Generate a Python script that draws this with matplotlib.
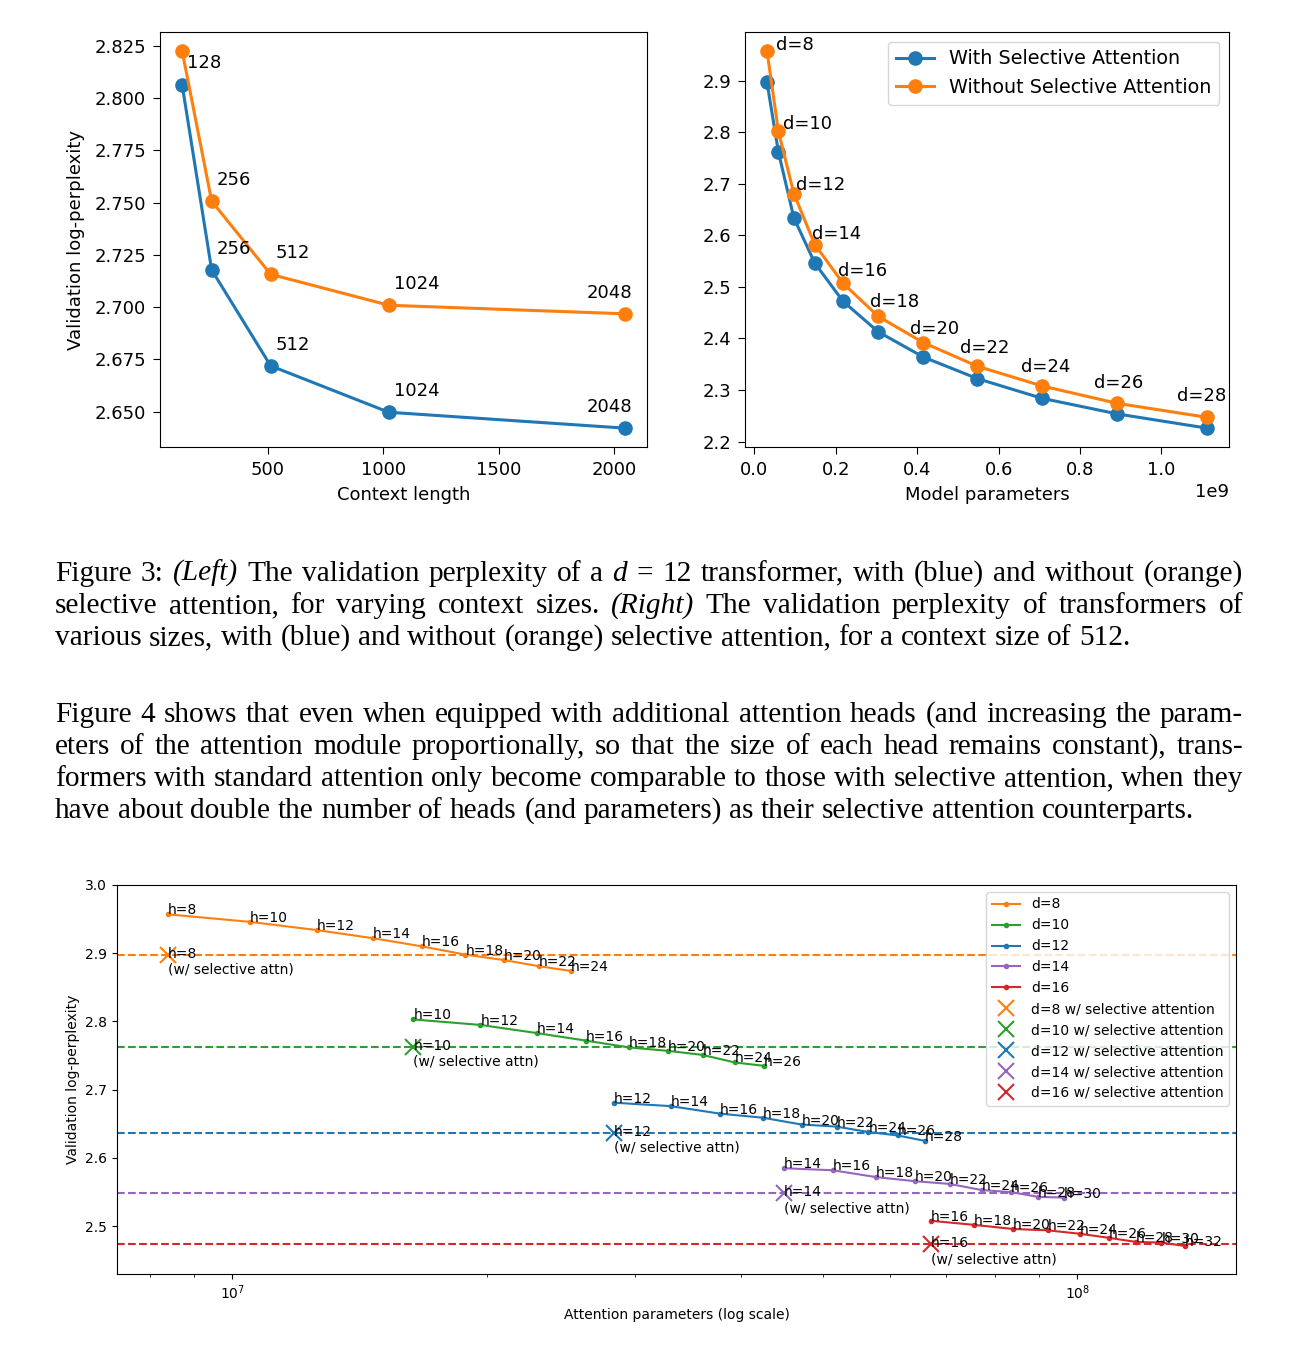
import numpy as np
import matplotlib
matplotlib.use("Agg")
import matplotlib.pyplot as plt

# ---- data: context length sweep (d=12) ----
context_len = [128, 256, 512, 1024, 2048]
ctx_with_sel = [2.8064, 2.7178, 2.6719, 2.6497, 2.6421]
ctx_without_sel = [2.8226, 2.7507, 2.7157, 2.7009, 2.6968]

# ---- data: model size sweep (context 512) ----
depths = [8, 10, 12, 14, 16, 18, 20, 22, 24, 26, 28]
model_params = [0.031e9, 0.059e9, 0.097e9, 0.1485e9, 0.218e9, 0.304e9,
                0.415e9, 0.548e9, 0.706e9, 0.892e9, 1.112e9]
size_with_sel = [2.897, 2.762, 2.634, 2.546, 2.472, 2.413, 2.364, 2.322, 2.284, 2.2535, 2.226]
size_without_sel = [2.958, 2.802, 2.681, 2.582, 2.507, 2.443, 2.392, 2.346, 2.308, 2.274, 2.247]

# ---- data: extra heads vs selective attention ----
heads_d8 = [8, 10, 12, 14, 16, 18, 20, 22, 24]
params_d8 = [8.39e6, 1.049e7, 1.258e7, 1.468e7, 1.678e7, 1.887e7, 2.097e7, 2.307e7, 2.517e7]
ppl_d8 = [2.957, 2.946, 2.934, 2.922, 2.910, 2.898, 2.890, 2.881, 2.874]

heads_d10 = [10, 12, 14, 16, 18, 20, 22, 24, 26]
params_d10 = [1.638e7, 1.966e7, 2.294e7, 2.621e7, 2.949e7, 3.277e7, 3.604e7, 3.932e7, 4.260e7]
ppl_d10 = [2.803, 2.795, 2.783, 2.772, 2.762, 2.757, 2.751, 2.740, 2.735]

heads_d12 = [12, 14, 16, 18, 20, 22, 24, 26, 28]
params_d12 = [2.831e7, 3.303e7, 3.775e7, 4.247e7, 4.719e7, 5.190e7, 5.662e7, 6.134e7, 6.606e7]
ppl_d12 = [2.681, 2.676, 2.665, 2.659, 2.649, 2.646, 2.638, 2.633, 2.625]

heads_d14 = [14, 16, 18, 20, 22, 24, 26, 28, 30]
params_d14 = [4.496e7, 5.138e7, 5.780e7, 6.423e7, 7.065e7, 7.707e7, 8.349e7, 8.992e7, 9.634e7]
ppl_d14 = [2.585, 2.582, 2.572, 2.566, 2.562, 2.553, 2.550, 2.543, 2.542]

heads_d16 = [16, 18, 20, 22, 24, 26, 28, 30, 32]
params_d16 = [6.711e7, 7.550e7, 8.389e7, 9.227e7, 1.007e8, 1.090e8, 1.174e8, 1.258e8, 1.342e8]
ppl_d16 = [2.508, 2.502, 2.496, 2.494, 2.489, 2.483, 2.477, 2.476, 2.471]

sel_depths = [8, 10, 12, 14, 16]
sel_heads = [8, 10, 12, 14, 16]
sel_params = [8.39e6, 1.638e7, 2.831e7, 4.496e7, 6.711e7]
sel_ppl = [2.898, 2.763, 2.637, 2.548, 2.474]

caption = [
    "Figure 3: *(Left)* The validation perplexity of a *d* = 12 transformer, with (blue) and without (orange)",
    "selective attention, for varying context sizes. *(Right)* The validation perplexity of transformers of",
    "various sizes, with (blue) and without (orange) selective attention, for a context size of 512.",
]
paragraph = [
    "Figure 4 shows that even when equipped with additional attention heads (and increasing the param-",
    "eters of the attention module proportionally, so that the size of each head remains constant), trans-",
    "formers with standard attention only become comparable to those with selective attention, when they",
    "have about double the number of heads (and parameters) as their selective attention counterparts.",
]

W, H = 1299, 1347
fig = plt.figure(figsize=(W / 100, H / 100), dpi=100)


def box(x0, y0, x1, y1):
    return [x0 / W, 1 - y1 / H, (x1 - x0) / W, (y1 - y0) / H]


# ---------------- top left ----------------
big = 13
ax1 = fig.add_axes(box(160, 32, 647, 447))
ax1.plot(context_len, ctx_with_sel, "o-", color="C0", lw=2.2, ms=9.5)
ax1.plot(context_len, ctx_without_sel, "o-", color="C1", lw=2.2, ms=9.5)
for i, c in enumerate(context_len):
    for vals, skip in ((ctx_with_sel, False), (ctx_without_sel, i == 0)):
        if skip:
            continue
        if i == 0:
            ax1.annotate(str(c), (c, vals[i]), xytext=(5, 22), textcoords="offset pixels",
                         ha="left", va="center", fontsize=big)
        elif i == len(context_len) - 1:
            ax1.annotate(str(c), (c, vals[i]), xytext=(7, 21), textcoords="offset pixels",
                         ha="right", va="center", fontsize=big)
        else:
            ax1.annotate(str(c), (c, vals[i]), xytext=(5, 21), textcoords="offset pixels",
                         ha="left", va="center", fontsize=big)
ax1.set_xlabel("Context length", fontsize=big, labelpad=5)
ax1.set_ylabel("Validation log-perplexity", fontsize=big, labelpad=7)
ax1.tick_params(labelsize=big, length=5, pad=5)

# ---------------- top right ----------------
ax2 = fig.add_axes(box(745, 32, 1229, 447))
ax2.plot(model_params, size_with_sel, "o-", color="C0", lw=2.2, ms=9.5, label="With Selective Attention")
ax2.plot(model_params, size_without_sel, "o-", color="C1", lw=2.2, ms=9.5, label="Without Selective Attention")
label_offsets = [(28, 6), (29, 7), (27, 9), (22, 11), (19, 12), (16, 14),
                 (11, 14), (7, 18), (4, 19), (1, 20), (-5, 21)]
for d, x, y, off in zip(depths, model_params, size_without_sel, label_offsets):
    ax2.annotate(f"d={d}", (x, y), xytext=off, textcoords="offset pixels",
                 ha="center", va="center", fontsize=big)
ax2.set_xlabel("Model parameters", fontsize=big, labelpad=5)
ax2.tick_params(labelsize=big, length=5, pad=5)
ax2.xaxis.get_offset_text().set_fontsize(big)
ax2.legend(loc="upper right", fontsize=13.8)

# ---------------- bottom ----------------
ax3 = fig.add_axes(box(117, 885, 1236, 1274))
series = [
    (8, "C1", heads_d8, params_d8, ppl_d8),
    (10, "C2", heads_d10, params_d10, ppl_d10),
    (12, "C0", heads_d12, params_d12, ppl_d12),
    (14, "C4", heads_d14, params_d14, ppl_d14),
    (16, "C3", heads_d16, params_d16, ppl_d16),
]
fs = 10
for d, col, hs, xs, ys in series:
    ax3.plot(xs, ys, ".-", color=col, lw=1.5, ms=6, label=f"d={d}")
    for h, x, y in zip(hs, xs, ys):
        ax3.text(x, y, f"h={h}", fontsize=fs)
sel_colors = ["C1", "C2", "C0", "C4", "C3"]
for d, h, x, y, col in zip(sel_depths, sel_heads, sel_params, sel_ppl, sel_colors):
    ax3.axhline(y, color=col, ls="--", lw=1.5)
    ax3.plot([x], [y], "x", color=col, ms=11, mew=1.5, label=f"d={d} w/ selective attention")
    ax3.annotate(f"h={h}\n(w/ selective attn)", (x, y), xytext=(0, 8), textcoords="offset pixels",
                 ha="left", va="top", fontsize=fs)
ax3.set_xscale("log")
ax3.set_ylim(2.43, 3.0)
ax3.set_xlabel("Attention parameters (log scale)", fontsize=fs)
ax3.set_ylabel("Validation log-perplexity", fontsize=fs)
ax3.tick_params(labelsize=fs)
ax3.legend(loc="upper right", fontsize=fs)

# ---------------- body text ----------------
serif = "Liberation Serif"
renderer = fig.canvas.get_renderer()


def words_of(line):
    out = []
    for w in line.split(" "):
        if w.startswith("*") and w.endswith("*"):
            out.append((w.strip("*"), "italic"))
        else:
            out.append((w, "normal"))
    return out


def measure(s, size, style="normal"):
    t = fig.text(0, 0, s, fontsize=size, family=serif, style=style)
    w = t.get_window_extent(renderer).width
    t.remove()
    return w


probe = 20
size_a = probe * (1146 - 55) / measure(caption[-1], probe)
size_b = probe * (1183 - 55) / measure(paragraph[-1], probe)
size = (size_a + size_b) / 2
space = measure("a a", size) - measure("aa", size)


def draw_line(line, y, justify, x0=55, x1=1243):
    words = words_of(line)
    widths = [measure(w, size, st) for w, st in words]
    gap = space
    if justify and len(words) > 1:
        gap = (x1 - x0 - sum(widths)) / (len(words) - 1)
    x = x0
    for (w, st), wd in zip(words, widths):
        fig.text(x / W, 1 - y / H, w, fontsize=size, family=serif, style=st, va="baseline")
        x += wd + gap


for i, (line, y) in enumerate(zip(caption, [581, 613, 645])):
    draw_line(line, y, i < len(caption) - 1)
for i, (line, y) in enumerate(zip(paragraph, [722, 754, 786, 818])):
    draw_line(line, y, i < len(paragraph) - 1)

fig.savefig("out.png", dpi=100)
